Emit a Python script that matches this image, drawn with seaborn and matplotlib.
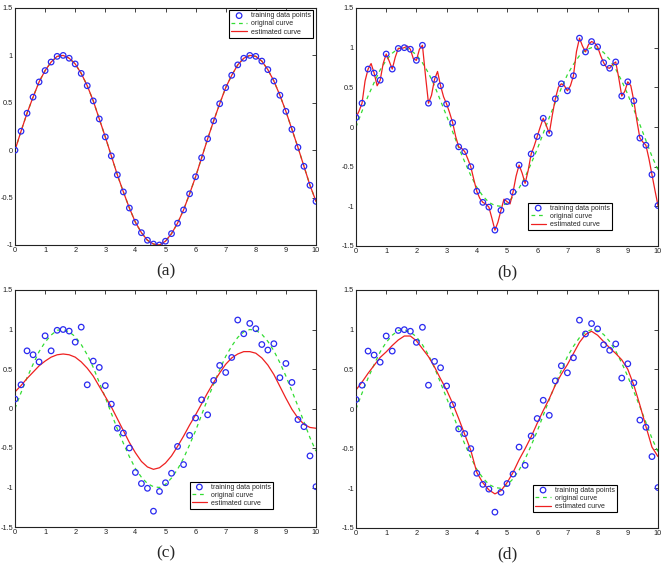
import numpy as np
import pandas as pd
import seaborn as sns
import matplotlib
matplotlib.use("Agg")
import matplotlib.pyplot as plt

# ---------------- data ----------------
x_points = [round(0.2 * i, 1) for i in range(51)]

# clean sine samples (panel a) = original curve
clean_points = [0.00, 0.20, 0.39, 0.56, 0.72, 0.84, 0.93, 0.99, 1.00, 0.97,
                0.91, 0.81, 0.68, 0.52, 0.33, 0.14, -0.06, -0.26, -0.44, -0.61,
                -0.76, -0.87, -0.95, -0.99, -1.00, -0.96, -0.88, -0.77, -0.63, -0.46,
                -0.28, -0.08, 0.12, 0.31, 0.49, 0.66, 0.79, 0.90, 0.97, 1.00,
                0.99, 0.94, 0.85, 0.73, 0.58, 0.41, 0.22, 0.03, -0.17, -0.37,
                -0.54]

# noisy training points (panels b, c, d)
noisy_points = [0.12, 0.30, 0.73, 0.68, 0.59, 0.92, 0.73, 0.99, 1.00, 0.98,
                0.84, 1.03, 0.30, 0.60, 0.52, 0.29, 0.055, -0.25, -0.31, -0.50,
                -0.81, -0.95, -1.01, -1.30, -1.05, -0.94, -0.82, -0.48, -0.71, -0.34,
                -0.12, 0.11, -0.08, 0.355, 0.545, 0.456, 0.646, 1.12, 0.946, 1.077,
                1.01, 0.81, 0.74, 0.82, 0.39, 0.57, 0.33, -0.14, -0.23, -0.60,
                -0.99]

# estimated curve (b), sampled every 0.1
x_fine = [round(0.1 * i, 1) for i in range(101)]
est_b = [0.12, 0.20, 0.30, 0.58, 0.73, 0.80, 0.68, 0.52, 0.59, 0.80,
         0.92, 0.83, 0.73, 0.88, 0.99, 0.99, 1.00, 1.02, 0.98, 0.86,
         0.84, 0.98, 1.03, 0.65, 0.30, 0.40, 0.60, 0.70, 0.52, 0.38,
         0.29, 0.18, 0.055, -0.12, -0.25, -0.27, -0.31, -0.40, -0.50, -0.66,
         -0.81, -0.90, -0.95, -0.97, -1.01, -1.15, -1.30, -1.20, -1.05, -0.91,
         -0.94, -0.97, -0.82, -0.62, -0.48, -0.58, -0.71, -0.55, -0.34, -0.24,
         -0.12, 0.00, 0.11, 0.02, -0.08, 0.15, 0.355, 0.50, 0.545, 0.52,
         0.456, 0.52, 0.646, 0.95, 1.12, 1.02, 0.946, 1.04, 1.077, 1.06,
         1.01, 0.90, 0.81, 0.75, 0.74, 0.79, 0.82, 0.62, 0.39, 0.45,
         0.57, 0.52, 0.33, 0.08, -0.14, -0.19, -0.23, -0.40, -0.60, -0.80,
         -0.99]

# estimated curve (c), every 0.2
est_c = [0.21, 0.29, 0.38, 0.46, 0.54, 0.60, 0.65, 0.68, 0.69, 0.68,
         0.65, 0.59, 0.51, 0.41, 0.28, 0.15, 0.02, -0.13, -0.28, -0.43,
         -0.56, -0.67, -0.74, -0.77, -0.75, -0.69, -0.60, -0.48, -0.35, -0.21,
         -0.08, 0.06, 0.20, 0.33, 0.45, 0.56, 0.64, 0.69, 0.72, 0.72,
         0.70, 0.64, 0.55, 0.43, 0.28, 0.13, -0.01, -0.12, -0.20, -0.24,
         -0.25]

# estimated curve (d), every 0.2
est_d = [0.24, 0.34, 0.45, 0.55, 0.65, 0.72, 0.80, 0.87, 0.92, 0.92,
         0.86, 0.76, 0.66, 0.53, 0.38, 0.24, 0.07, -0.12, -0.32, -0.52,
         -0.80, -0.93, -1.02, -1.07, -1.03, -0.93, -0.80, -0.64, -0.50, -0.35,
         -0.18, -0.02, 0.13, 0.30, 0.44, 0.56, 0.70, 0.84, 0.94, 0.98,
         0.93, 0.85, 0.77, 0.70, 0.62, 0.50, 0.30, 0.05, -0.22, -0.48,
         -0.60]

panel_labels = ["(a)", "(b)", "(c)", "(d)"]
legend_labels = ["training data points", "original curve", "estimated curve"]

# ---------------- plotting ----------------
sns.set_style("white")
plt.rcParams["font.family"] = ["Liberation Sans", "DejaVu Sans"]
plt.rcParams["axes.unicode_minus"] = False

W, H = 663, 568
fig = plt.figure(figsize=(W / 100, H / 100), dpi=100)

def ax_at(l, t, r, b):
    return fig.add_axes([l / W, 1 - b / H, (r - l) / W, (b - t) / H])

axes = [ax_at(15, 8, 316, 245), ax_at(356, 8, 658, 246),
        ax_at(15, 290, 316, 527), ax_at(356, 290, 658, 528)]

pts_sets = [clean_points, noisy_points, noisy_points, noisy_points]
est_sets = [(x_points, clean_points), (x_fine, est_b), (x_points, est_c), (x_points, est_d)]
legend_pos = [("upper right", (0.99, 0.99)), ("lower right", (0.848, 0.067)),
              ("lower right", (0.858, 0.076)), ("lower right", (0.864, 0.067))]
ylims = [(-1, 1.5), (-1.5, 1.5), (-1.5, 1.5), (-1.5, 1.5)]

for i, ax in enumerate(axes):
    dfp = pd.DataFrame({"x": x_points, "y": pts_sets[i]})
    dfo = pd.DataFrame({"x": x_points, "y": clean_points})
    ex, ey = est_sets[i]
    dfe = pd.DataFrame({"x": ex, "y": ey})

    sns.scatterplot(data=dfp, x="x", y="y", ax=ax, marker="o", s=16,
                    facecolor="none", edgecolor="#2a2af0", linewidth=0.9,
                    label=legend_labels[0], zorder=3)
    sns.lineplot(data=dfo, x="x", y="y", ax=ax, color="#33dd33", lw=0.9,
                 dashes=False, linestyle=(0, (3, 3)), label=legend_labels[1],
                 zorder=2, estimator=None, sort=False)
    sns.lineplot(data=dfe, x="x", y="y", ax=ax, color="#ee2020", lw=0.9,
                 label=legend_labels[2], zorder=2.5, estimator=None, sort=False)

    ax.set_xlim(0, 10)
    ax.set_ylim(*ylims[i])
    ax.set_xticks(range(0, 11))
    ax.set_xticklabels([str(v) for v in range(0, 11)])
    if i == 0:
        yt = [-1, -0.5, 0, 0.5, 1, 1.5]
    else:
        yt = [-1.5, -1, -0.5, 0, 0.5, 1, 1.5]
    ax.set_yticks(yt)
    ax.set_yticklabels([("%g" % v) for v in yt])
    ax.set_xlabel("")
    ax.set_ylabel("")
    ax.tick_params(direction="in", length=3, width=0.6, labelsize=5.3,
                   top=True, right=True, pad=1.5, colors="#222222")
    for s in ax.spines.values():
        s.set_visible(True)
        s.set_color("#222222")
        s.set_linewidth(0.8)

    loc, anchor = legend_pos[i]
    leg = ax.legend(loc=loc, bbox_to_anchor=anchor, borderaxespad=0,
                    fontsize=5, frameon=True, fancybox=False, framealpha=1,
                    edgecolor="black", handlelength=2.2, labelspacing=0.15,
                    borderpad=0.3, handletextpad=0.6)
    leg.get_frame().set_linewidth(0.8)

    cx = (ax.get_position().x0 + ax.get_position().x1) / 2
    ybase = ax.get_position().y0
    fig.text(cx, ybase - 26 / H, panel_labels[i], ha="center", va="center",
             fontsize=12.5, family=["Liberation Serif", "DejaVu Serif"])

fig.savefig("out.png", dpi=100)
